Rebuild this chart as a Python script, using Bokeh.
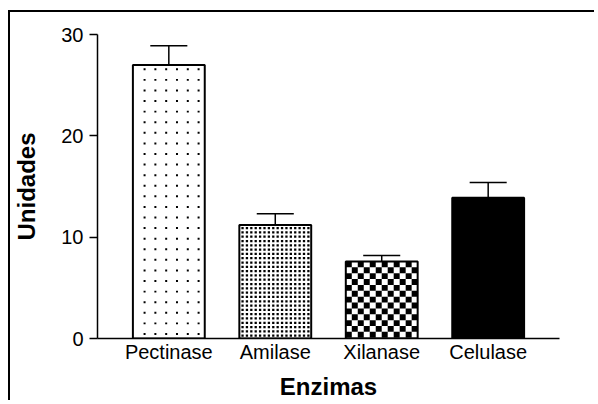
from bokeh.plotting import figure
from bokeh.models import ColumnDataSource, Range1d, FixedTicker
from bokeh.embed import file_html
from bokeh.resources import INLINE

# ---- data ----
categories = ["Pectinase", "Amilase", "Xilanase", "Celulase"]
values = [27.0, 11.2, 7.6, 13.9]
errors = [1.9, 1.1, 0.6, 1.5]
y_ticks = [0, 10, 20, 30]
x_title = "Enzimas"
y_title = "Unidades"

# ---- layout / style ----
X_START, X_END = -0.67, 3.67
Y_START, Y_END = 0, 30
W, H = 586, 390
MB_L, MB_R, MB_T, MB_B = 86, 37, 22, 57
FRAME_W = W - MB_L - MB_R
FRAME_H = H - MB_T - MB_B
PX_X = FRAME_W / (X_END - X_START)
PX_Y = FRAME_H / (Y_END - Y_START)

bar_width = 0.675
cap_half = 0.174
fills = ["white", "white", "white", "black"]
# pattern kind per bar: (kind, pitch px, dot size px, first offset x, first offset y)
pattern_spec = [("dots", 10.83, 2.0, 11.7, 4.5),
                ("dots", 4.4, 2.3, 3.2, 3.2),
                ("checker", 6.0, 6.0, 0.0, 0.0),
                (None, 0, 0, 0, 0)]


def pattern_quads(cx, top, spec):
    kind, pitch, size, ox, oy = spec
    L, R, B, T = [], [], [], []
    if kind is None:
        return L, R, B, T
    left = cx - bar_width / 2
    w_px = bar_width * PX_X
    h_px = top * PX_Y
    if kind == "dots":
        yc = oy
        while yc < h_px - 2:
            xc = ox
            while xc < w_px - 2:
                L.append(left + (xc - size / 2) / PX_X)
                R.append(left + (xc + size / 2) / PX_X)
                T.append(top - (yc - size / 2) / PX_Y)
                B.append(top - (yc + size / 2) / PX_Y)
                xc += pitch
            yc += pitch
    else:
        j = 0
        y0 = 0.0
        while y0 < h_px:
            i = 0
            x0 = 0.0
            y1 = min(y0 + size, h_px)
            while x0 < w_px:
                x1 = min(x0 + size, w_px)
                if (i + j) % 2 == 0:
                    L.append(left + x0 / PX_X)
                    R.append(left + x1 / PX_X)
                    T.append(top - y0 / PX_Y)
                    B.append(top - y1 / PX_Y)
                i += 1
                x0 += size
            j += 1
            y0 += size
    return L, R, B, T


xs = list(range(len(categories)))

p = figure(width=W, height=H, output_backend="svg", toolbar_location=None,
           x_range=Range1d(X_START, X_END), y_range=Range1d(Y_START, Y_END),
           min_border_left=MB_L, min_border_right=MB_R, min_border_top=MB_T,
           min_border_bottom=MB_B)
p.styles = {"border-left": "2px solid black", "border-top": "2px solid black",
            "margin-top": "10px", "margin-left": "8px"}
p.outline_line_color = None
p.grid.visible = False
p.background_fill_color = "white"
p.border_fill_color = "white"

bars = ColumnDataSource(dict(x=xs, top=values, fill=fills))
p.vbar(x="x", top="top", width=bar_width, bottom=0, source=bars,
       fill_color="fill", line_color=None)

for i in xs:
    L, R, B, T = pattern_quads(xs[i], values[i], pattern_spec[i])
    if L:
        p.quad(left=L, right=R, bottom=B, top=T, fill_color="black", line_color=None)

p.vbar(x="x", top="top", width=bar_width, bottom=0, source=bars,
       fill_color=None, line_color="black", line_width=2)

err_top = [v + e for v, e in zip(values, errors)]
p.segment(x0=xs, y0=values, x1=xs, y1=err_top, line_color="black", line_width=1.5)
p.segment(x0=[x - cap_half for x in xs], y0=err_top, x1=[x + cap_half for x in xs],
          y1=err_top, line_color="black", line_width=1.5)

FONT = "Liberation Sans"
p.xaxis.ticker = FixedTicker(ticks=xs)
p.xaxis.major_label_overrides = {i: c for i, c in enumerate(categories)}
p.xaxis.major_tick_in = 0
p.xaxis.major_tick_out = 0
p.xaxis.minor_tick_line_color = None
p.xaxis.major_label_standoff = 2
p.xaxis.axis_label = x_title

p.yaxis.ticker = FixedTicker(ticks=y_ticks)
p.yaxis.major_tick_in = 0
p.yaxis.major_tick_out = 8
p.yaxis.minor_tick_line_color = None
p.yaxis.major_label_standoff = 6
p.yaxis.axis_label = y_title

for ax in (p.xaxis[0], p.yaxis[0]):
    ax.axis_line_color = "black"
    ax.axis_line_width = 1.5
    ax.major_tick_line_color = "black"
    ax.major_tick_line_width = 1.5
    ax.major_label_text_font = FONT
    ax.major_label_text_font_size = "20px"
    ax.major_label_text_color = "black"
    ax.axis_label_text_font = FONT
    ax.axis_label_text_font_size = "24px"
    ax.axis_label_text_font_style = "bold"
    ax.axis_label_text_color = "black"
p.xaxis.axis_label_standoff = 7
p.yaxis.axis_label_standoff = 18

open("out.html", "w").write(file_html(p, INLINE))
